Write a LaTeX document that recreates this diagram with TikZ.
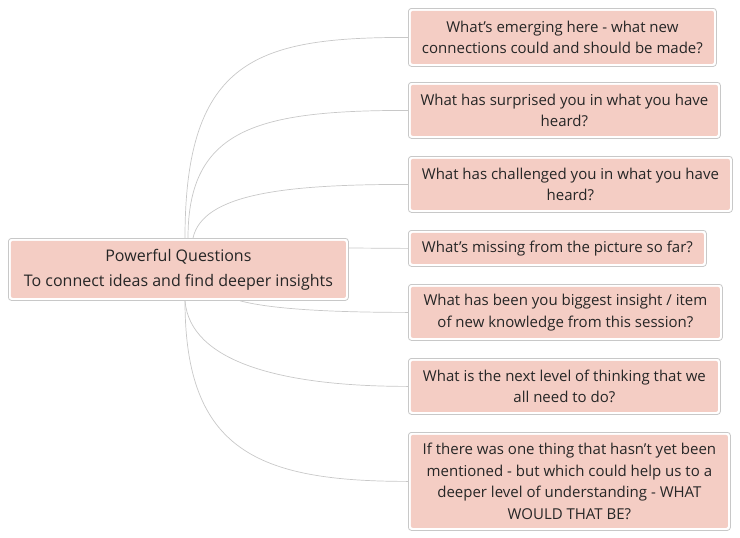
\documentclass[tikz,border=0pt]{standalone}
\usepackage{fontspec}
\setmainfont{Open Sans}
\usetikzlibrary{calc}
\definecolor{pinkfill}{HTML}{F4CDC4}
\definecolor{edge}{HTML}{C8C8C8}
\tikzset{
 qbox/.style={draw=edge, line width=0.8pt, fill=white, rounded corners=3pt, anchor=north west, align=center, inner sep=0pt,
   font=\fontsize{15pt}{21.5pt}\selectfont, text=black!85,
   path picture={\fill[pinkfill, rounded corners=2pt] ($(path picture bounding box.south west)+(2.5pt,2.5pt)$) rectangle ($(path picture bounding box.north east)-(2.5pt,2.5pt)$);}},
 link/.style={draw=edge, line width=0.7pt}
}
\begin{document}
\begin{tikzpicture}[x=1pt,y=-1pt]
\useasboundingbox (0,0) rectangle (740,538);
\node[qbox, minimum width=340, minimum height=62, font=\fontsize{16pt}{25pt}\selectfont] (c) at (8,238) {Powerful Questions\\To connect ideas and find deeper insights};
\node[qbox, minimum width=308, minimum height=58] (q1) at (408,8) {What's emerging here - what new\\connections could and should be made?};
\node[qbox, minimum width=312, minimum height=56] (q2) at (408,82) {What has surprised you in what you have\\heard?};
\node[qbox, minimum width=324, minimum height=56] (q3) at (408,156) {What has challenged you in what you have\\heard?};
\node[qbox, minimum width=298, minimum height=36] (q4) at (408,230) {What's missing from the picture so far?};
\node[qbox, minimum width=314, minimum height=56] (q5) at (408,284) {What has been you biggest insight / item\\of new knowledge from this session?};
\node[qbox, minimum width=312, minimum height=56] (q6) at (408,358) {What is the next level of thinking that we\\all need to do?};
\node[qbox, minimum width=322, minimum height=98] (q7) at (408,432) {If there was one thing that hasn't yet been\\mentioned - but which could help us to a\\deeper level of understanding - WHAT\\WOULD THAT BE?};
\coordinate (t1) at ($(c.north west)+(177,0)$);
\coordinate (t2) at ($(c.north west)+(180,0)$);
\coordinate (t3) at ($(c.north west)+(185,0)$);
\coordinate (b1) at ($(c.south west)+(177,0)$);
\coordinate (b2) at ($(c.south west)+(232,0)$);
\coordinate (r4) at ($(c.north east)+(0,10)$);
\draw[link] (t1) .. controls ($(t1)+(0,-180)$) and ($(q1.west)+(-150,0)$) .. (q1.west);
\draw[link] (t2) .. controls ($(t2)+(0,-110)$) and ($(q2.west)+(-150,0)$) .. (q2.west);
\draw[link] (t3) .. controls ($(t3)+(10,-45)$) and ($(q3.west)+(-120,0)$) .. (q3.west);
\draw[link] (r4) -- (q4.west);
\draw[link] (b2) .. controls ($(b2)+(30,8)$) and ($(q5.west)+(-80,0)$) .. (q5.west);
\draw[link] (b1) .. controls ($(b1)+(5,60)$) and ($(q6.west)+(-130,0)$) .. (q6.west);
\draw[link] (b1) .. controls ($(b1)+(0,150)$) and ($(q7.west)+(-150,0)$) .. (q7.west);
\end{tikzpicture}
\end{document}
